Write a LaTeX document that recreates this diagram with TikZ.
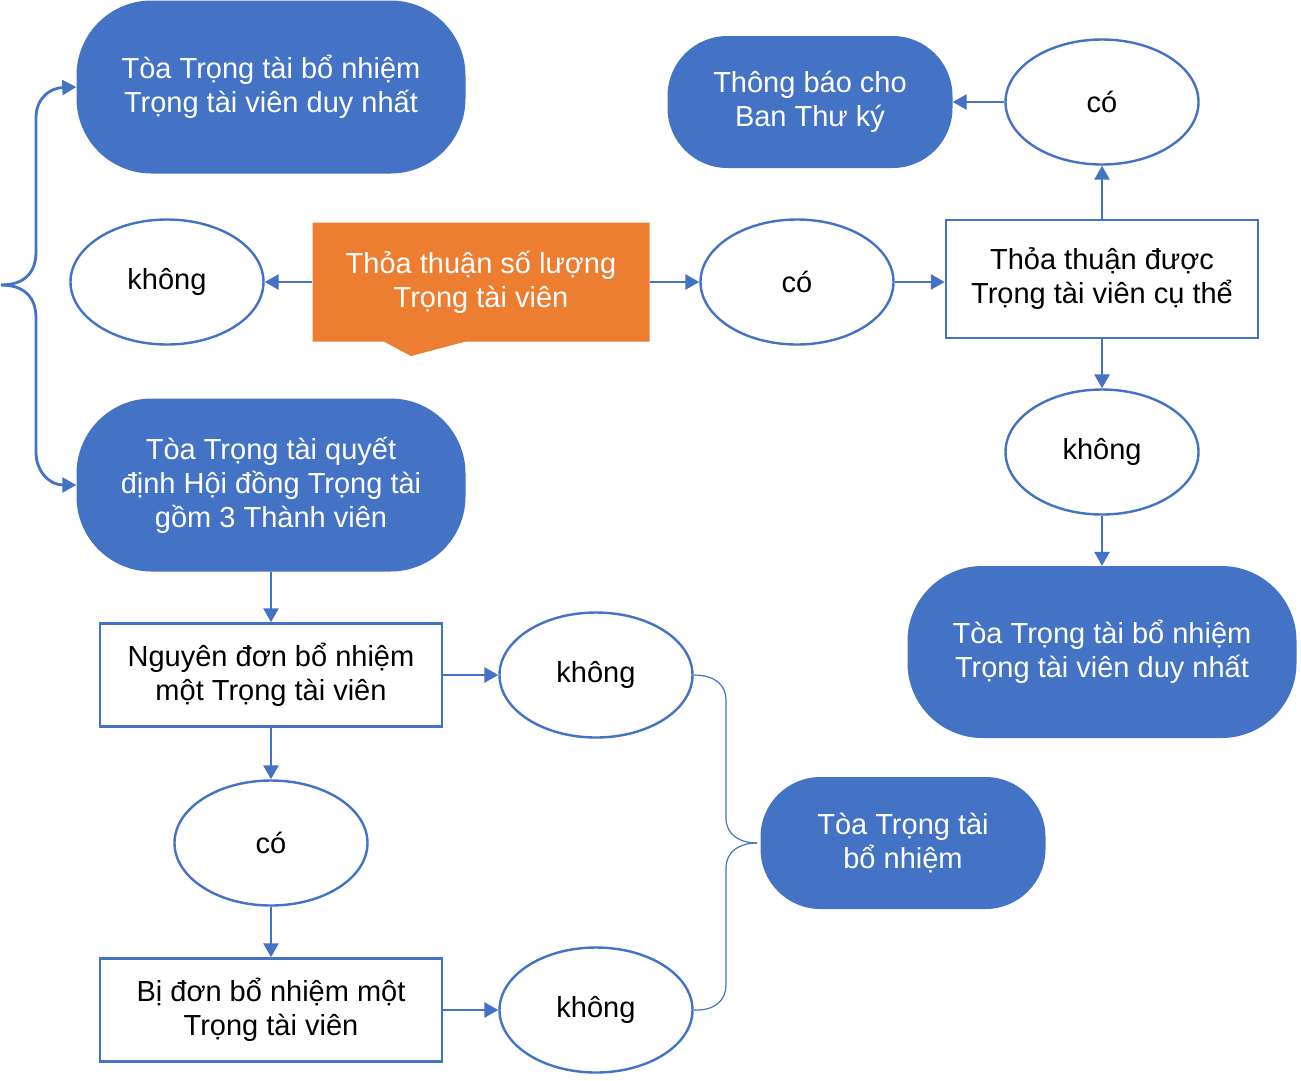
\documentclass[tikz,border=0pt]{standalone}
\usepackage{fontspec}
\setmainfont{Liberation Sans}
\usepackage{tikz}
\usetikzlibrary{positioning, shapes.geometric, shapes.callouts, arrows.meta}
\definecolor{accblue}{HTML}{4472C4}
\definecolor{accorange}{HTML}{ED7D31}

\begin{document}
\begin{tikzpicture}[x=1pt, y=-1pt,
  term/.style={rectangle, rounded corners=#1, fill=accblue, text=white, align=center, inner sep=0pt, font=\fontsize{29}{34}\selectfont},
  oval/.style={ellipse, draw=accblue, line width=2.4pt, minimum width=193pt, minimum height=125pt, inner sep=0pt, font=\fontsize{29}{34}\selectfont},
  box/.style={rectangle, draw=accblue, line width=2.5pt, fill=white, align=center, inner sep=0pt, font=\fontsize{29}{34}\selectfont},
  link/.style={draw=accblue, line width=2.8pt, -{Triangle[length=14pt, width=15pt]}},
  brace/.style={draw=accblue, line width=1.2pt}
]
  \useasboundingbox (0,0) rectangle (1301,1080);

  % Top row
  \node[term=75pt, minimum width=389pt, minimum height=173pt] (single) at (271,87) {Tòa Trọng tài bổ nhiệm\\Trọng tài viên duy nhất};
  \node[term=60pt, minimum width=285pt, minimum height=132pt] (notify) at (810,102) {Thông báo cho\\Ban Thư ký};
  \node[oval] (yesnotify) at (1102,102) {có};

  % Middle row
  \node[oval] (noleft) at (167,282) {không};
  \node[rectangle callout, fill=accorange, text=white, align=center, inner sep=0pt,
        font=\fontsize{29}{34}\selectfont, minimum width=337pt, minimum height=119pt,
        callout absolute pointer={(411,356)}, callout pointer width=82pt] (agree) at (481,282) {Thỏa thuận số lượng\\Trọng tài viên};
  \node[oval] (yesmid) at (797,282) {có};
  \node[box, minimum width=312pt, minimum height=118pt] (specific) at (1102,279) {Thỏa thuận được\\Trọng tài viên cụ thể};

  % Right column
  \node[oval] (noright) at (1102,452) {không};
  \node[term=75pt, minimum width=389pt, minimum height=172pt] (singleb) at (1102,652) {Tòa Trọng tài bổ nhiệm\\Trọng tài viên duy nhất};

  % Left column
  \node[term=75pt, minimum width=389pt, minimum height=173pt] (panel) at (271,485) {Tòa Trọng tài quyết\\định Hội đồng Trọng tài\\gồm 3 Thành viên};
  \node[box, minimum width=342pt, minimum height=103pt] (claimant) at (271,675) {Nguyên đơn bổ nhiệm\\một Trọng tài viên};
  \node[oval] (noclaim) at (596,675) {không};
  \node[oval] (yesclaim) at (271,843) {có};
  \node[box, minimum width=342pt, minimum height=103pt] (respondent) at (271,1010) {Bị đơn bổ nhiệm một\\Trọng tài viên};
  \node[oval] (noresp) at (596,1010) {không};
  \node[term=60pt, minimum width=285pt, minimum height=132pt] (court) at (903,843) {Tòa Trọng tài\\bổ nhiệm};

  % Arrows
  \draw[link] (agree.west) -- (noleft.east);
  \draw[link] (agree.east) -- (yesmid.west);
  \draw[link] (yesmid.east) -- (yesmid.east -| specific.west);
  \draw[link] (specific.north) -- (yesnotify.south);
  \draw[link] (yesnotify.west) -- (notify.east);
  \draw[link] (specific.south) -- (noright.north);
  \draw[link] (noright.south) -- (singleb.north);
  \draw[link] (panel.south) -- (claimant.north);
  \draw[link] (claimant.east) -- (noclaim.west);
  \draw[link] (claimant.south) -- (yesclaim.north);
  \draw[link] (yesclaim.south) -- (respondent.north);
  \draw[link] (respondent.east) -- (noresp.west);

  % Left brace
  \coordinate (split) at (1,285);
  \draw[link] (split) .. controls (25,285) and (36,272) .. (36,252) -- (36,118) .. controls (36,98) and (50,88) .. (single.west);
  \draw[link] (split) .. controls (25,285) and (36,298) .. (36,318) -- (36,452) .. controls (36,472) and (50,485) .. (panel.west);

  % Right brace
  \coordinate (join) at (757,843);
  \draw[brace] (noclaim.east) .. controls (715,675) and (726,685) .. (726,700) -- (726,818) .. controls (726,835) and (740,843) .. (join);
  \draw[brace] (noresp.east) .. controls (715,1011) and (726,1000) .. (726,985) -- (726,868) .. controls (726,851) and (740,843) .. (join);
\end{tikzpicture}
\end{document}
